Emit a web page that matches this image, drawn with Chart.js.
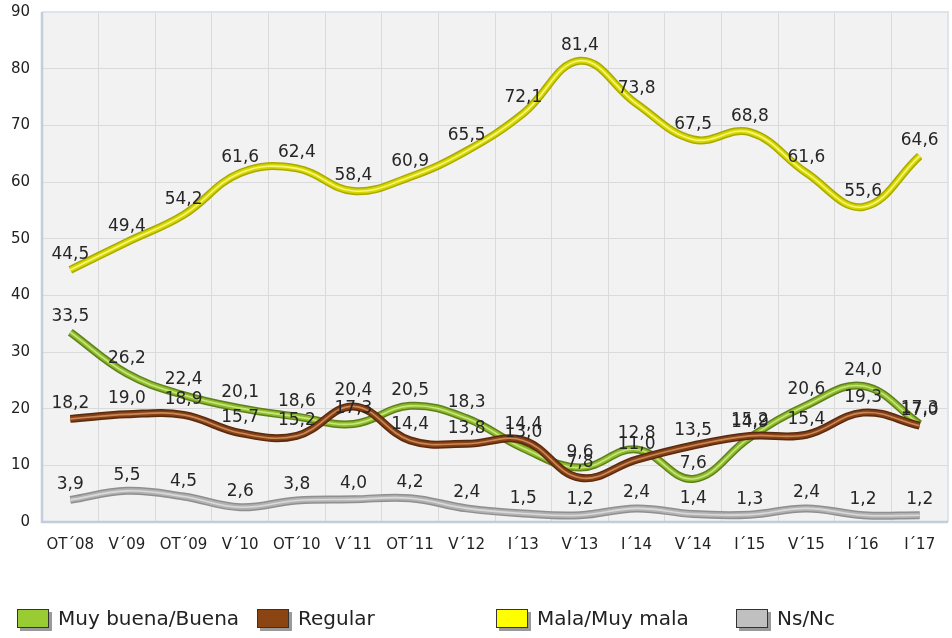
<!DOCTYPE html>
<html>
<head>
<meta charset="utf-8">
<script src="https://cdn.jsdelivr.net/npm/chart.js@4.4.1/dist/chart.umd.min.js"></script>
<style>
  body { margin: 0; background: #fff; }
  #wrap { position: relative; width: 952px; height: 638px; overflow: hidden; }
  #chart { position: absolute; left: 0; top: 0; }
  .leg { position: absolute; top: 607px; height: 24px; font: 20px "DejaVu Sans", Verdana, sans-serif; color: #222; white-space: nowrap; }
  .leg .box { position: absolute; left: 0; top: 2px; width: 30px; height: 17px; border: 1.5px solid #333; box-shadow: 3px 3px 0 #9a9a9a; }
  .leg span.txt { position: absolute; left: 41px; top: -1px; }
</style>
</head>
<body>
<div id="wrap">
  <canvas id="chart" width="952" height="638"></canvas>
  <div class="leg" style="left:17px"><div class="box" style="background:#99cc33"></div><span class="txt">Muy buena/Buena</span></div>
  <div class="leg" style="left:257px"><div class="box" style="background:#8b4513"></div><span class="txt">Regular</span></div>
  <div class="leg" style="left:496px"><div class="box" style="background:#ffff00"></div><span class="txt">Mala/Muy mala</span></div>
  <div class="leg" style="left:736px"><div class="box" style="background:#c0c0c0"></div><span class="txt">Ns/Nc</span></div>
</div>
<script>
// data
const categories = ["OT´08", "V´09", "OT´09", "V´10", "OT´10", "V´11", "OT´11", "V´12",
  "I´13", "V´13", "I´14", "V´14", "I´15", "V´15", "I´16", "I´17"];
const muyBuenaBuena = [33.5, 26.2, 22.4, 20.1, 18.6, 17.3, 20.5, 18.3, 13.0, 9.6, 12.8, 7.6, 14.9, 20.6, 24.0, 17.3];
const regular = [18.2, 19.0, 18.9, 15.7, 15.2, 20.4, 14.4, 13.8, 14.4, 7.8, 11.0, 13.5, 15.2, 15.4, 19.3, 17.0];
const malaMuyMala = [44.5, 49.4, 54.2, 61.6, 62.4, 58.4, 60.9, 65.5, 72.1, 81.4, 73.8, 67.5, 68.8, 61.6, 55.6, 64.6];
const nsNc = [3.9, 5.5, 4.5, 2.6, 3.8, 4.0, 4.2, 2.4, 1.5, 1.2, 2.4, 1.4, 1.3, 2.4, 1.2, 1.2];
const yMin = 0, yMax = 90, yStep = 10;

const FONT = '"DejaVu Sans", Verdana, sans-serif';

// each series is drawn as a "tube": dark edge, body colour, light highlight
function tube(name, data, edge, body, light, order) {
  const base = { data, pointRadius: 0, pointHoverRadius: 0, tension: 0.4, fill: false };
  return [
    { ...base, label: name + "_edge", borderColor: edge, borderWidth: 8, order: order + 2 },
    { ...base, label: name, borderColor: body, borderWidth: 5, order: order + 1, showValues: true },
    { ...base, label: name + "_hl", borderColor: light, borderWidth: 1.6, order: order }
  ];
}

const datasets = [
  ...tube("Ns/Nc", nsNc, "#8f8f8f", "#b2b2b2", "#dadada", 40),
  ...tube("Muy buena/Buena", muyBuenaBuena, "#5f7f1c", "#8dbb2c", "#c8e67c", 30),
  ...tube("Regular", regular, "#5a2a0c", "#874018", "#c98a57", 20),
  ...tube("Mala/Muy mala", malaMuyMala, "#a9a900", "#d6d600", "#f6f67a", 10)
];

const plotBg = {
  id: "plotBg",
  beforeDraw(chart) {
    const { ctx, chartArea: a } = chart;
    ctx.save();
    ctx.fillStyle = "#f2f2f2";
    ctx.fillRect(a.left, a.top, a.right - a.left, a.bottom - a.top);
    ctx.restore();
  },
  beforeDatasetsDraw(chart) {
    const { ctx, chartArea: a } = chart;
    ctx.save();
    ctx.lineWidth = 2;
    ctx.strokeStyle = "#dfe3ea";
    ctx.beginPath();
    ctx.moveTo(a.left, a.top); ctx.lineTo(a.right, a.top); ctx.lineTo(a.right, a.bottom);
    ctx.stroke();
    ctx.strokeStyle = "#c3cddb";
    ctx.lineWidth = 2.5;
    ctx.beginPath();
    ctx.moveTo(a.left, a.top); ctx.lineTo(a.left, a.bottom); ctx.lineTo(a.right, a.bottom);
    ctx.stroke();
    ctx.restore();
  }
};

const valueLabels = {
  id: "valueLabels",
  afterDatasetsDraw(chart) {
    const ctx = chart.ctx;
    ctx.save();
    ctx.font = "17px " + FONT;
    ctx.fillStyle = "#262626";
    ctx.textAlign = "center";
    ctx.textBaseline = "alphabetic";
    chart.data.datasets.forEach((ds, i) => {
      if (!ds.showValues) return;
      chart.getDatasetMeta(i).data.forEach((pt, j) => {
        const txt = ds.data[j].toFixed(1).replace(".", ",");
        ctx.fillText(txt, pt.x, pt.y - 11);
      });
    });
    ctx.restore();
  }
};

new Chart(document.getElementById("chart"), {
  type: "line",
  data: { labels: categories, datasets },
  options: {
    responsive: false,
    animation: false,
    layout: { padding: { top: 12, right: 4, bottom: 76, left: 0 } },
    plugins: { legend: { display: false }, tooltip: { enabled: false } },
    scales: {
      x: {
        offset: true,
        grid: { offset: true, color: "#dadada", lineWidth: 1, drawTicks: false },
        border: { display: false },
        ticks: { color: "#222", font: { family: FONT, size: 15 }, padding: 14, maxRotation: 0, autoSkip: false },
        afterFit(s) { s.height = 40; s.paddingLeft = 0; s.paddingRight = 0; }
      },
      y: {
        min: yMin, max: yMax,
        grid: { color: "#dadada", lineWidth: 1, drawTicks: false },
        border: { display: false },
        ticks: { stepSize: yStep, color: "#222", font: { family: FONT, size: 15 }, padding: 12 },
        afterFit(s) { s.width = 42; s.paddingTop = 0; s.paddingBottom = 0; }
      }
    }
  },
  plugins: [plotBg, valueLabels]
});
</script>
</body>
</html>
